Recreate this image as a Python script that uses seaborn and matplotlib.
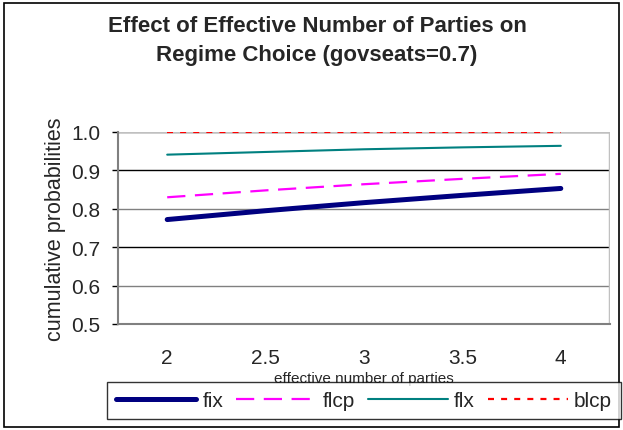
import matplotlib
matplotlib.use("Agg")
import matplotlib.pyplot as plt
import seaborn as sns
import pandas as pd
from matplotlib.patches import Rectangle

# data
parties = ["2", "2.5", "3", "3.5", "4"]
fix = [0.772, 0.795, 0.816, 0.835, 0.853]
flcp = [0.830, 0.848, 0.864, 0.878, 0.891]
flx = [0.941, 0.948, 0.955, 0.960, 0.964]
blcp = [0.999, 0.999, 0.999, 0.999, 0.999]
yticks = [0.5, 0.6, 0.7, 0.8, 0.9, 1.0]

sns.set_theme(style="white")
plt.rcParams['font.family'] = ['Liberation Sans', 'DejaVu Sans']

fig = plt.figure(figsize=(6.23, 4.31), dpi=100)
ax = fig.add_axes([118/623, 106/431, 492/623, 192/431])

pos = list(range(len(parties)))
series = [
    ("fix", fix, "#000080", 3.6, "-"),
    ("flcp", flcp, "#FF00FF", 1.6, (0, (8.2, 4.3))),
    ("flx", flx, "#008080", 1.5, "-"),
    ("blcp", blcp, "#FF0000", 1.6, (0, (2.7, 3.2))),
]
for name, vals, col, lw, ls in series:
    df = pd.DataFrame({"x": pos, "y": vals})
    sns.lineplot(data=df, x="x", y="y", ax=ax, color=col, linewidth=lw,
                 linestyle=ls, label=name, zorder=3)

ax.set_xlim(-0.5, len(parties) - 0.5)
ax.set_ylim(0.5, 1.0)
ax.set_yticks(yticks)
ax.set_yticklabels([f"{v:.1f}" for v in yticks], fontsize=15)
ax.set_xticks(pos)
ax.set_xticklabels(parties, fontsize=15)
ax.tick_params(axis="x", length=0, pad=17)
ax.tick_params(axis="y", length=4.5, width=1, color="black", direction="out", left=True, pad=8)
grid_colors = {0.6: "#808080", 0.7: "black", 0.8: "#808080", 0.9: "black"}
for v in yticks[1:-1]:
    ax.axhline(v, color=grid_colors[v], linewidth=1.0, zorder=1)
ax.axhline(1.0, color="#c0c0c0", linewidth=1.8, zorder=1)
for s in ["top", "right"]:
    ax.spines[s].set_visible(False)
ax.spines["left"].set_color("#808080")
ax.spines["left"].set_linewidth(1.5)
ax.spines["bottom"].set_color("#808080")
ax.spines["bottom"].set_linewidth(1.5)
ax.axvline(len(parties) - 0.5, color="#c0c0c0", linewidth=2.5, zorder=1)

ax.set_xlabel("effective number of parties", fontsize=11, labelpad=3)
ax.set_ylabel("cumulative probabilities", fontsize=15.5, labelpad=4)
ax.legend_.remove()

fig.text(317/623, 1 - 26/431, "Effect of Effective Number of Parties on", ha="center",
         va="center", fontsize=16, fontweight="bold")
fig.text(317/623, 1 - 56/431, "Regime Choice (govseats=0.7)", ha="center",
         va="center", fontsize=16, fontweight="bold")

h, l = ax.get_legend_handles_labels()
leg = fig.legend(h, l, loc="center", bbox_to_anchor=(364/623, 1 - 401.5/431), ncol=4,
                 frameon=True, fontsize=15, handlelength=3.85, handletextpad=0.29,
                 columnspacing=0.62, borderpad=0.42, borderaxespad=0, fancybox=False,
                 edgecolor="black")
leg.get_frame().set_linewidth(1.0)

fig.patches.append(Rectangle((4/623, 3/431), 615/623, 424/431, transform=fig.transFigure,
                             fill=False, edgecolor="black", linewidth=1.2))

fig.savefig("out.png", dpi=100)
